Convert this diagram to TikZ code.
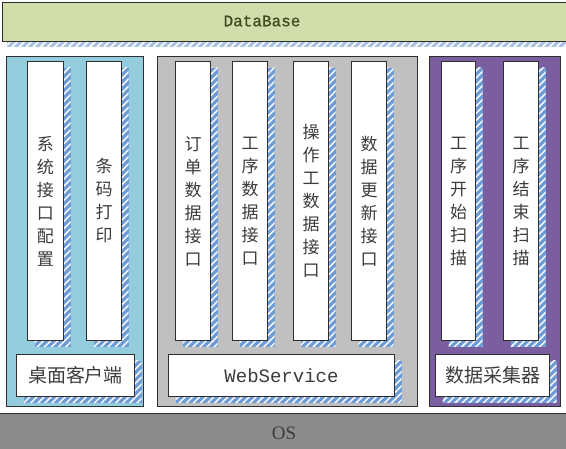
\documentclass[tikz,border=0pt]{standalone}
\usepackage{fontspec}
\setmainfont{Liberation Serif}
\newfontfamily\cjk{Noto Sans CJK SC}
\newfontfamily\monof{Liberation Mono}
\newfontfamily\monob[FakeBold=0.8]{Liberation Mono}
\usetikzlibrary{shadows,patterns.meta}
\definecolor{dbfill}{HTML}{D1DDAA}
\definecolor{dbtext}{HTML}{3E4C22}
\definecolor{aquafill}{HTML}{93CDDD}
\definecolor{grayfill}{HTML}{C0C0C0}
\definecolor{purplefill}{HTML}{7B5EA0}
\definecolor{osfill}{HTML}{8C8C8C}
\definecolor{shblue}{HTML}{6E9AD6}
\definecolor{edge}{HTML}{2E2E2E}
\definecolor{txt}{HTML}{3C3C3C}
\begin{document}
\begin{tikzpicture}[x=1pt,y=-1pt,
  hshadow/.style={
    general shadow={fill=shblue, shadow xshift=7pt, shadow yshift=-6pt},
    general shadow={pattern={Lines[angle=45,distance=5pt,line width=1.6pt]}, pattern color=white!92!shblue, shadow xshift=7pt, shadow yshift=-6pt}},
  container/.style={draw=edge, line width=0.9pt, anchor=north west, inner sep=0pt},
  colbox/.style={draw=edge, line width=1pt, fill=white, anchor=north west, inner sep=0pt, hshadow,
    minimum height=279pt, align=center, text=txt, font=\cjk\fontsize{17}{23}\selectfont},
  labbox/.style={draw=edge, line width=1pt, fill=white, anchor=north west, inner sep=0pt, hshadow,
    minimum height=42pt, text=txt}
]
\useasboundingbox (0,0) rectangle (566,448);
\clip (0,0) rectangle (566,448);
\fill[white] (0,0) rectangle (566,448);

% DataBase bar
\node[container, fill=dbfill, minimum width=570pt, minimum height=39pt,
  general shadow={fill=shblue!60!white, shadow xshift=5pt, shadow yshift=-6pt},
  general shadow={pattern={Lines[angle=45,distance=5pt,line width=1.6pt]}, pattern color=white, shadow xshift=5pt, shadow yshift=-6pt}] (db) at (2,2) {};
\node[text=dbtext, font=\monob\fontsize{16}{16}\selectfont] (dbt) at (262,21) {DataBase};

% containers
\node[container, fill=aquafill, minimum width=137pt, minimum height=350pt] (cl) at (6,56) {};
\node[container, fill=grayfill, minimum width=260pt, minimum height=350pt] (cm) at (157,56) {};
\node[container, fill=purplefill, minimum width=131pt, minimum height=350pt] (cr) at (429,56) {};

% columns
\node[colbox, minimum width=36pt] (c1) at (27,61) {系\\统\\接\\口\\配\\置};
\node[colbox, minimum width=35pt] (c2) at (86,61) {条\\码\\打\\印};
\node[colbox, minimum width=35pt] (c3) at (175,61) {订\\单\\数\\据\\接\\口};
\node[colbox, minimum width=35pt] (c4) at (232,61) {工\\序\\数\\据\\接\\口};
\node[colbox, minimum width=35pt] (c5) at (293,61) {操\\作\\工\\数\\据\\接\\口};
\node[colbox, minimum width=35pt] (c6) at (351,61) {数\\据\\更\\新\\接\\口};
\node[colbox, minimum width=34pt] (c7) at (441,61) {工\\序\\开\\始\\扫\\描};
\node[colbox, minimum width=35pt] (c8) at (503,61) {工\\序\\结\\束\\扫\\描};

% bottom label boxes
\node[labbox, minimum width=118pt, font=\cjk\fontsize{19}{19}\selectfont] (b1) at (16,354) {桌面客户端};
\node[labbox, minimum width=226pt, font=\monof\fontsize{19}{19}\selectfont] (b2) at (168,354) {WebService};
\node[labbox, minimum width=114pt, font=\cjk\fontsize{19}{19}\selectfont] (b3) at (435,354) {数据采集器};

% OS bar
\node[container, fill=osfill, minimum width=570pt, minimum height=40pt] (os) at (-2,413) {};
\node[text=txt, font=\fontsize{19}{19}\selectfont] (ost) at (284,433) {OS};
\end{tikzpicture}
\end{document}
